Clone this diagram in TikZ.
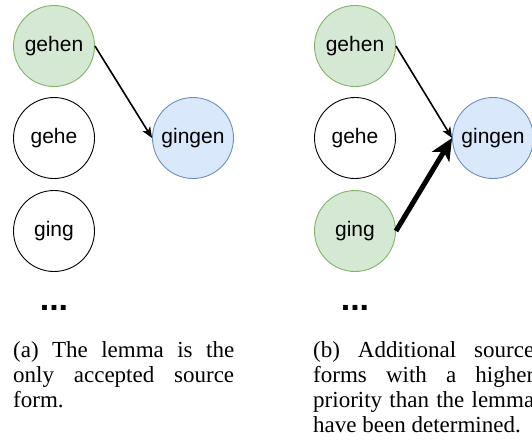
\documentclass[tikz,border=0pt]{standalone}
\usepackage{fontspec}
\setmainfont{Liberation Serif}
\newfontfamily\nodefont{Liberation Sans}
\usetikzlibrary{arrows.meta}
\definecolor{gfill}{HTML}{D5E8D4}
\definecolor{gdraw}{HTML}{82B366}
\definecolor{bfill}{HTML}{DAE8FC}
\definecolor{bdraw}{HTML}{6C8EBF}
\tikzset{
  form/.style={circle, draw=black, line width=0.9pt, minimum size=81pt, inner sep=0pt,
    font=\nodefont\fontsize{21}{24}\selectfont},
  accepted/.style={form, draw=gdraw, fill=gfill},
  target/.style={form, draw=bdraw, fill=bfill},
  thinarrow/.style={line width=1.6pt, -{Stealth[length=11pt,width=9pt,inset=3pt]}},
  thickarrow/.style={line width=5pt, -{Stealth[length=22pt,width=20pt,inset=6pt]}},
  more/.style={font=\nodefont\bfseries\fontsize{34}{36}\selectfont, inner sep=0pt, anchor=base},
  caption/.style={text width=221pt, align=justify, inner sep=0pt, anchor=base west,
    font=\fontsize{23}{25.3}\selectfont}
}
\begin{document}
\begin{tikzpicture}[x=1pt,y=-1pt]
\useasboundingbox (0,0) rectangle (532,442);
% panel (a)
\node[accepted] (a1) at (54,46) {gehen};
\node[form] (a2) at (54,138) {gehe};
\node[form] (a3) at (54,231) {ging};
\node[target] (a4) at (193,138) {gingen};
\node[more] (adots) at (54,310) {...};
\draw[thinarrow] (a1.east) -- (a4.west);
\node[caption] (acap) at (13,357) {\hyphenpenalty=10000 (a) The lemma is the\linebreak only accepted source\linebreak form.};
% panel (b)
\node[accepted] (b1) at (355,46) {gehen};
\node[form] (b2) at (355,138) {gehe};
\node[accepted] (b3) at (355,231) {ging};
\node[target] (b4) at (493,138) {gingen};
\node[more] (bdots) at (355,310) {...};
\draw[thinarrow] (b1.east) -- (b4.west);
\draw[thickarrow] (b3.east) -- (b4.west);
\node[caption] (bcap) at (313,357) {\hyphenpenalty=10000 (b) Additional source\linebreak forms with a higher\linebreak priority than the lemma\linebreak have been determined.};
\end{tikzpicture}
\end{document}
